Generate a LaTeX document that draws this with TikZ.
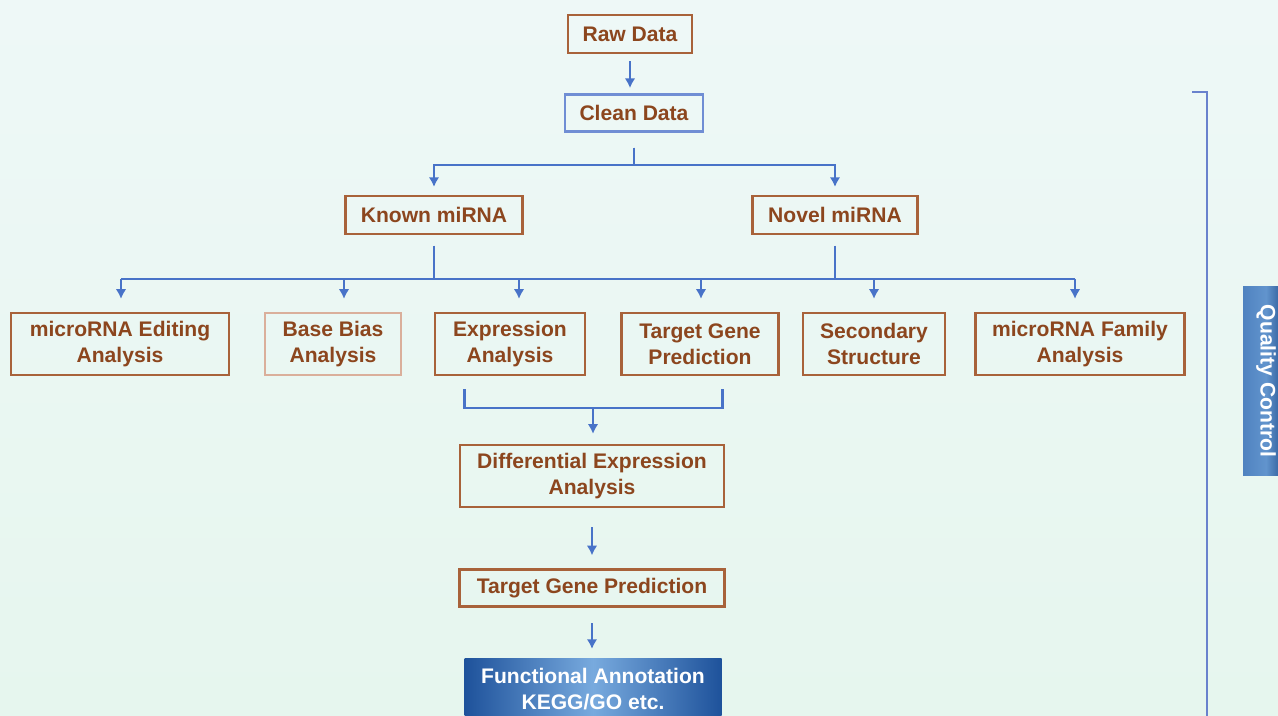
\documentclass[tikz,border=0pt]{standalone}
\usepackage{fontspec}
\setmainfont{Liberation Sans}
\usetikzlibrary{arrows.meta}
\definecolor{boxbrown}{RGB}{168,98,58}
\definecolor{textbrown}{RGB}{140,70,30}
\definecolor{lightbrown}{RGB}{218,175,155}
\definecolor{lineblue}{RGB}{72,115,200}
\definecolor{cleanblue}{RGB}{112,142,212}
\definecolor{bracketblue}{RGB}{105,130,205}
\definecolor{darkblue}{RGB}{30,82,155}
\definecolor{paleblue}{RGB}{120,170,222}
\definecolor{bgtop}{RGB}{238,248,247}
\definecolor{bgbot}{RGB}{230,246,238}
\tikzset{size/.style 2 args={minimum width=#1*0.02cm, minimum height=#2*0.02cm}}
\tikzstyle{box}=[draw=boxbrown, line width=1.3pt, text=textbrown, align=center, inner sep=0pt,
  font=\fontsize{12}{14.7}\selectfont\bfseries]
\tikzstyle{bluebox}=[box, draw=none, text=white, left color=darkblue, right color=darkblue, middle color=paleblue]
\tikzstyle{link}=[lineblue, line width=1.6pt]
\tikzstyle{flow}=[link, -{Latex[length=5.5pt,width=6pt]}]

\begin{document}
\begin{tikzpicture}[x=0.02cm, y=-0.02cm]
    \useasboundingbox (0,0) rectangle (1278,716);
    \clip (0,0) rectangle (1278,716);
    \fill[top color=bgtop, bottom color=bgbot] (0,0) rectangle (1278,716);

    % top of the tree
    \node[box, size={124}{38}] (raw) at (630,34) {Raw Data};
    \node[box, draw=cleanblue, size={138}{37}] (clean) at (634,113) {Clean Data};
    \node[box, size={177}{38}] (known) at (434,215) {Known miRNA};
    \node[box, size={165}{38}] (novel) at (835,215) {Novel miRNA};

    % analysis row
    \node[box, size={218}{62}] (edit) at (120,344) {microRNA Editing\\Analysis};
    \node[box, draw=lightbrown, size={136}{62}] (bias) at (333,344) {Base Bias\\Analysis};
    \node[box, size={150}{62}] (expr) at (510,344) {Expression\\Analysis};
    \node[box, size={157}{62}] (pred) at (700,344) {Target Gene\\Prediction};
    \node[box, size={142}{62}] (sec) at (874,344) {Secondary\\Structure};
    \node[box, size={209}{62}] (fam) at (1080,344) {microRNA Family\\Analysis};

    % lower chain
    \node[box, size={264}{62}] (diff) at (592,476) {Differential Expression\\Analysis};
    \node[box, size={265}{37}] (target) at (592,588) {Target Gene Prediction};
    \node[bluebox, size={257}{62}] (func) at (593,689) {Functional Annotation\\KEGG/GO etc.};
    \node[bluebox, rotate=-90, left color=paleblue!55!darkblue, right color=darkblue!85!black,
      middle color=paleblue!75!darkblue, size={188}{46}] (qc) at (1266,381) {Quality Control};

    \coordinate (splitA) at (632,165);
    \coordinate (busL) at (121,279);
    \coordinate (busR) at (1075,279);
    \coordinate (mergeA) at (593,408);

    \draw[flow, shorten <=4pt, shorten >=3pt] (raw.south) -- (raw.south |- clean.north);
    \draw[flow, shorten <=8.5pt, shorten >=4.5pt] (clean.south) |- (splitA) -| (known.north);
    \draw[flow, shorten <=8.5pt, shorten >=4.5pt] (clean.south) |- (splitA) -| (novel.north);

    \draw[link, shorten <=6pt] (known.south) -- (known.south |- busL);
    \draw[link, shorten <=6pt] (novel.south) -- (novel.south |- busR);
    \draw[link] (busL) -- (busR);
    \foreach \n/\dx in {edit/1, bias/11, expr/9, pred/1, sec/0, fam/-5}
        \draw[flow, shorten >=7.4pt] ([xshift=\dx*0.02cm]\n.north |- busL) -- ([xshift=\dx*0.02cm]\n.north);

    \draw[link] ([xshift=-26pt, yshift=-7.4pt]expr.south) |- (mergeA)
        -| ([xshift=13pt, yshift=-7.4pt]pred.south);
    \draw[flow, shorten >=5.7pt] (mergeA) -- (mergeA |- diff.north);
    \draw[flow, shorten <=11pt, shorten >=7.4pt] (diff.south) -- (diff.south |- target.north);
    \draw[flow, shorten <=9pt, shorten >=4.5pt] (target.south) -- (target.south |- func.north);

    % quality control bracket
    \draw[bracketblue, line width=1.4pt] (1192,92) -- (1207,92) -- (1207,720);
\end{tikzpicture}
\end{document}
